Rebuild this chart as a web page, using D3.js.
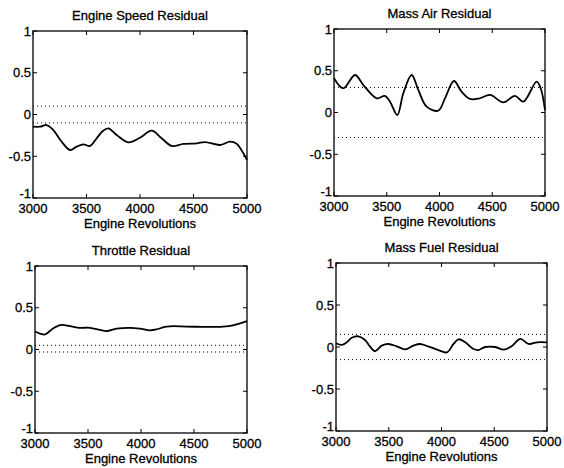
<!DOCTYPE html>
<html>
<head>
<meta charset="utf-8">
<script src="https://cdn.jsdelivr.net/npm/d3@7"></script>
<style>
  body { margin: 0; background: #fff; }
  svg { display: block; }
  text { font-family: "Liberation Sans", Arial, sans-serif; fill: #000; stroke: #000; stroke-width: 0.3; }
  .box { fill: none; stroke: #000; stroke-width: 1.3; }
  .tick-in { stroke: #000; stroke-width: 1; }
  .resid { fill: none; stroke: #000; stroke-width: 1.8; }
  .thresh { stroke: #000; stroke-width: 1; stroke-dasharray: 1,3; }
</style>
</head>
<body>
<div id="chart"></div>
<script>
// panel titles and threshold pairs
const titles = ["Engine Speed Residual", "Mass Air Residual", "Throttle Residual", "Mass Fuel Residual"];
const thresholds = [[0.1, -0.1], [0.3, -0.3], [0.05, -0.03], [0.15, -0.15]];
const xTicks = [3000, 3500, 4000, 4500, 5000];
const yTicks = [-1, -0.5, 0, 0.5, 1];
const xLabel = "Engine Revolutions";

// residual traces
const speedRpm = [3000, 3065, 3128, 3190, 3268, 3346, 3408, 3470, 3533, 3595, 3650, 3704, 3782, 3891, 4000, 4109, 4203, 4296, 4405, 4530, 4607, 4748, 4841, 4903, 4966, 5000];
const speedVal = [-0.146, -0.146, -0.126, -0.186, -0.326, -0.425, -0.385, -0.357, -0.377, -0.285, -0.2, -0.166, -0.246, -0.333, -0.278, -0.194, -0.285, -0.377, -0.353, -0.345, -0.33, -0.365, -0.326, -0.35, -0.465, -0.545];

const airRpm = [3000, 3088, 3199, 3278, 3405, 3483, 3531, 3600, 3657, 3736, 3799, 3878, 3988, 4052, 4137, 4209, 4289, 4380, 4479, 4605, 4716, 4795, 4921, 4959, 5000];
const airVal = [0.41, 0.29, 0.449, 0.329, 0.17, 0.198, 0.13, -0.03, 0.23, 0.449, 0.27, 0.07, 0.022, 0.17, 0.377, 0.25, 0.162, 0.17, 0.21, 0.122, 0.2, 0.13, 0.369, 0.29, 0.03];

const throttleRpm = [3000, 3047, 3094, 3173, 3251, 3330, 3424, 3518, 3612, 3675, 3770, 3895, 3990, 4083, 4146, 4240, 4430, 4617, 4775, 4868, 5000];
const throttleVal = [0.215, 0.19, 0.18, 0.255, 0.295, 0.28, 0.26, 0.26, 0.235, 0.22, 0.25, 0.26, 0.25, 0.23, 0.24, 0.275, 0.275, 0.27, 0.275, 0.29, 0.34];

const fuelRpm = [3000, 3054, 3101, 3149, 3212, 3275, 3323, 3370, 3434, 3497, 3576, 3655, 3734, 3794, 3873, 3971, 4051, 4114, 4161, 4225, 4304, 4351, 4415, 4510, 4589, 4668, 4747, 4826, 4905, 5000];
const fuelVal = [0.045, 0.025, 0.055, 0.11, 0.127, 0.084, 0.004, -0.05, 0.016, 0.036, 0.008, -0.028, 0.016, 0.036, 0.008, -0.036, -0.064, 0.036, 0.092, 0.056, -0.024, -0.036, 0, 0, -0.032, 0.012, 0.096, 0.036, 0.056, 0.056];

const series = [
  [speedRpm, speedVal],
  [airRpm, airVal],
  [throttleRpm, throttleVal],
  [fuelRpm, fuelVal]
];

// plot boxes in page pixels: left, top, right, bottom
const boxes = [
  { l: 33, t: 31, r: 247, b: 198 },
  { l: 334, t: 29, r: 545, b: 196 },
  { l: 35, t: 266, r: 247, b: 433 },
  { l: 336, t: 263, r: 547, b: 431 }
];

const width = 564, height = 468;
const fontSize = 13;
const tickLen = 4;

const svg = d3.select("#chart").append("svg")
    .attr("width", width)
    .attr("height", height);

titles.forEach((title, i) => {
  const box = boxes[i];
  const g = svg.append("g");

  const x = d3.scaleLinear().domain([3000, 5000]).range([box.l, box.r]);
  const y = d3.scaleLinear().domain([-1, 1]).range([box.b, box.t]);

  // threshold lines
  g.selectAll(".thresh")
    .data(thresholds[i])
    .enter().append("line")
      .attr("class", "thresh")
      .attr("x1", box.l)
      .attr("x2", box.r)
      .attr("y1", d => y(d))
      .attr("y2", d => y(d));

  // residual curve
  const pts = series[i][0].map((r, k) => [r, series[i][1][k]]);
  const line = d3.line()
      .x(d => x(d[0]))
      .y(d => y(d[1]))
      .curve(d3.curveCatmullRom.alpha(0.5));

  g.append("path")
    .datum(pts)
    .attr("class", "resid")
    .attr("d", line);

  // inward ticks, MATLAB style
  xTicks.forEach(t => {
    g.append("line").attr("class", "tick-in")
      .attr("x1", x(t)).attr("x2", x(t))
      .attr("y1", box.b).attr("y2", box.b - tickLen);
    g.append("line").attr("class", "tick-in")
      .attr("x1", x(t)).attr("x2", x(t))
      .attr("y1", box.t).attr("y2", box.t + tickLen);
  });
  yTicks.forEach(t => {
    g.append("line").attr("class", "tick-in")
      .attr("x1", box.l).attr("x2", box.l + tickLen)
      .attr("y1", y(t)).attr("y2", y(t));
    g.append("line").attr("class", "tick-in")
      .attr("x1", box.r).attr("x2", box.r - tickLen)
      .attr("y1", y(t)).attr("y2", y(t));
  });

  g.append("rect")
    .attr("class", "box")
    .attr("x", box.l)
    .attr("y", box.t)
    .attr("width", box.r - box.l)
    .attr("height", box.b - box.t);

  // tick labels
  g.selectAll(".xt")
    .data(xTicks)
    .enter().append("text")
      .attr("class", "xt")
      .attr("x", d => x(d))
      .attr("y", box.b + 15)
      .attr("text-anchor", "middle")
      .style("font-size", fontSize + "px")
      .text(d => d);

  // the -1 label sits a little high, as in the scan
  g.selectAll(".yt")
    .data(yTicks)
    .enter().append("text")
      .attr("class", "yt")
      .attr("x", box.l - 2)
      .attr("y", d => y(d) - (d === -1 ? 5 : 0))
      .attr("dy", "0.36em")
      .attr("text-anchor", "end")
      .style("font-size", fontSize + "px")
      .text(d => d < 0 ? "-" + Math.abs(d) : d);

  g.append("text")
    .attr("x", (box.l + box.r) / 2)
    .attr("y", box.b + 30)
    .attr("text-anchor", "middle")
    .style("font-size", fontSize + "px")
    .text(xLabel);

  g.append("text")
    .attr("x", (box.l + box.r) / 2)
    .attr("y", box.t - 11)
    .attr("text-anchor", "middle")
    .style("font-size", fontSize + "px")
    .text(title);
});
</script>
</body>
</html>
